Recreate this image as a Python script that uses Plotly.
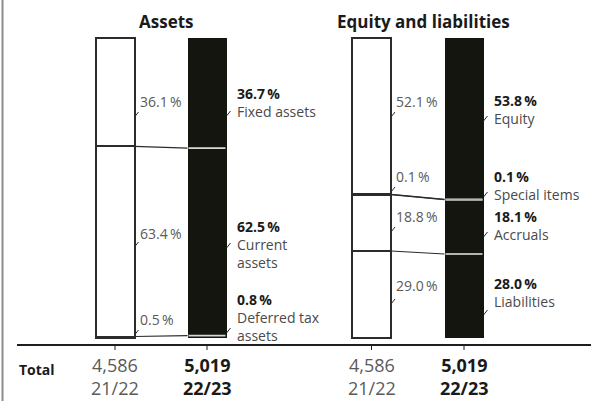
import plotly.graph_objects as go

# ---- data -------------------------------------------------------------
years = ["21/22", "22/23"]
totals = ["4,586", "5,019"]

asset_items = ["Fixed assets", "Current assets", "Deferred tax assets"]
assets_prev = [36.1, 63.4, 0.5]
assets_curr = [36.7, 62.5, 0.8]

eq_items = ["Equity", "Special items", "Accruals", "Liabilities"]
eq_prev = [52.1, 0.1, 18.8, 29.0]
eq_curr = [53.8, 0.1, 18.1, 28.0]

# ---- layout helpers ------------------------------------------------------
W, H = 591, 401
TOP_PX, BOT_PX = 38, 338          # pixel rows of 100 % and 0 %
SCALE = (BOT_PX - TOP_PX) / 100.0


def yv(py):
    """Convert a pixel row into the value axis."""
    return 100 - (py - TOP_PX) / SCALE


BAR_W = 39
X_POS = {"a_prev": 115, "a_curr": 207, "e_prev": 371.5, "e_curr": 464}

DARK = "#151510"
EDGE = "#2b2b2b"
GREY_TXT = "#5a5a5a"
FONT = "Open Sans"

fig = go.Figure()


def stacked(x, values, filled):
    """Stack segments bottom-up (the lists run top-down)."""
    base = 0.0
    bounds = []
    for v in reversed(values):
        fig.add_trace(go.Bar(
            x=[x], y=[v], base=[base], width=BAR_W,
            marker=dict(color=DARK if filled else "white",
                        line=dict(color=EDGE, width=0 if filled else 2)),
            hoverinfo="skip", showlegend=False))
        base += v
        bounds.append(base)
    return bounds[:-1]  # internal boundaries, bottom-up


def dividers(x, bounds, color, width):
    for b in bounds:
        fig.add_trace(go.Scatter(
            x=[x - BAR_W / 2 + 1, x + BAR_W / 2 - 1], y=[b, b], mode="lines",
            line=dict(color=color, width=width), hoverinfo="skip", showlegend=False))


def connectors(x0, b0, x1, b1):
    for p, q in zip(b0, b1):
        fig.add_trace(go.Scatter(
            x=[x0 + BAR_W / 2, x1 - BAR_W / 2], y=[p, q], mode="lines",
            line=dict(color=EDGE, width=1.2), hoverinfo="skip", showlegend=False))


ba0 = stacked(X_POS["a_prev"], assets_prev, False)
ba1 = stacked(X_POS["a_curr"], assets_curr, True)
be0 = stacked(X_POS["e_prev"], eq_prev, False)
be1 = stacked(X_POS["e_curr"], eq_curr, True)

dividers(X_POS["a_curr"], ba1, "#d8d8d8", 1.6)
dividers(X_POS["e_curr"], be1, "#b4b4b0", 2)
connectors(X_POS["a_prev"], ba0, X_POS["a_curr"], ba1)
connectors(X_POS["e_prev"], be0, X_POS["e_curr"], be1)

shapes = []
annotations = []

# frame line on the left, base line and the small ticks under each bar
shapes.append(dict(type="line", xref="x", yref="paper", x0=2.5, x1=2.5, y0=0, y1=1,
                   line=dict(color="#8c8c8c", width=2)))
shapes.append(dict(type="line", xref="x", yref="y", x0=17, x1=W, y0=yv(345), y1=yv(345),
                   line=dict(color="#1e1e1e", width=2)))
for xc in X_POS.values():
    shapes.append(dict(type="line", xref="x", yref="y", x0=xc, x1=xc,
                       y0=yv(345), y1=yv(350), line=dict(color="#1e1e1e", width=1)))


def pct(v):
    return f"{v:.1f}\u2009%"


def label(x_edge, text_dx, py_mid, text, color, leader_py):
    annotations.append(dict(x=x_edge + text_dx, y=yv(py_mid), xref="x", yref="y",
                            text=text, showarrow=False, xanchor="left",
                            yanchor="middle", align="left",
                            font=dict(family=FONT, size=14, color=color)))
    shapes.append(dict(type="line", xref="x", yref="y", x0=x_edge, x1=x_edge + 4,
                       y0=yv(leader_py), y1=yv(leader_py - 5),
                       line=dict(color=EDGE, width=1)))


# label layout: (text centre row, leader row) per segment
a_prev_pos = [(101, 117), (233, 247), (319, 335)]
a_curr_pos = [(102, 116), (244.5, 248), (317.5, 333)]
e_prev_pos = [(101, 117), (176, 192), (216, 232), (285, 304)]
e_curr_pos = [(109, 121), (185, 197), (225, 237), (292, 315)]

a_curr_names = ["Fixed assets", "Current<br>assets", "Deferred tax<br>assets"]
e_curr_names = ["Equity", "Special items", "Accruals", "Liabilities"]

xr = {k: v + BAR_W / 2 for k, v in X_POS.items()}
for v, (pm, pl) in zip(assets_prev, a_prev_pos):
    label(xr["a_prev"], 3, pm, pct(v), GREY_TXT, pl)
for v, n, (pm, pl) in zip(assets_curr, a_curr_names, a_curr_pos):
    label(xr["a_curr"], 8, pm,
          f"<b><span style='color:#1a1a1a'>{pct(v)}</span></b><br>{n}", "#4a4a4a", pl)
for v, (pm, pl) in zip(eq_prev, e_prev_pos):
    label(xr["e_prev"], 3, pm, pct(v), GREY_TXT, pl)
for v, n, (pm, pl) in zip(eq_curr, e_curr_names, e_curr_pos):
    label(xr["e_curr"], 8, pm,
          f"<b><span style='color:#1a1a1a'>{pct(v)}</span></b><br>{n}", "#4a4a4a", pl)

# group titles
annotations.append(dict(x=166, y=yv(21), xref="x", yref="y", text="<b>Assets</b>",
                        showarrow=False, font=dict(family=FONT, size=17, color="#1a1a1a")))
annotations.append(dict(x=423, y=yv(21), xref="x", yref="y",
                        text="<b>Equity and liabilities</b>", showarrow=False,
                        font=dict(family=FONT, size=17, color="#1a1a1a")))

# totals row: amount above fiscal year, one block per bar
annotations.append(dict(x=17, y=yv(369), xref="x", yref="y", text="<b>Total</b>",
                        showarrow=False, xanchor="left",
                        font=dict(family=FONT, size=14, color="#1a1a1a")))
for key_prev, key_curr in (("a_prev", "a_curr"), ("e_prev", "e_curr")):
    for key, tot, yr, bold in ((key_prev, totals[0], years[0], False),
                               (key_curr, totals[1], years[1], True)):
        txt = f"<b>{tot}</b><br><b>{yr}</b>" if bold else f"{tot}<br>{yr}"
        annotations.append(dict(
            x=X_POS[key], y=0, xref="x", yref="paper", yanchor="bottom",
            text=txt, showarrow=False, borderpad=0,
            font=dict(family=FONT, size=18,
                      color="#1a1a1a" if bold else GREY_TXT)))

fig.update_layout(
    width=W, height=H, margin=dict(l=0, r=0, t=0, b=0),
    paper_bgcolor="white", plot_bgcolor="white",
    barmode="overlay", bargap=0,
    xaxis=dict(range=[0, W], visible=False, fixedrange=True),
    yaxis=dict(range=[yv(H), yv(0)], visible=False, fixedrange=True),
    shapes=shapes, annotations=annotations,
)

fig.write_html("out.html")
